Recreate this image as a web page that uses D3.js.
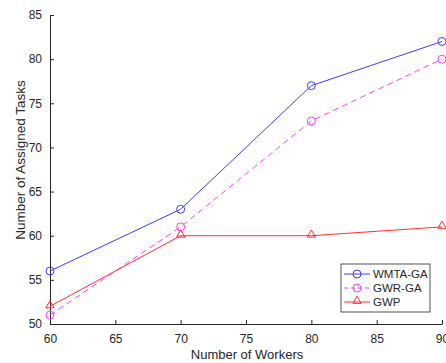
<!DOCTYPE html>
<html>
<head>
<meta charset="utf-8">
<script src="https://cdn.jsdelivr.net/npm/d3@7"></script>
<style>
  body { margin: 0; background: #fff; }
  svg { font-family: "Liberation Sans", Arial, sans-serif; }
</style>
</head>
<body>
<svg id="chart" width="446" height="363"></svg>
<script>
const width = 446;
const height = 363;

var workers = [60, 70, 80, 90];
var wmtaGA = [56, 63, 77, 82];
var gwrGA = [51, 61, 73, 80];
var gwp = [52, 60, 60, 61];
var xTicks = [60, 65, 70, 75, 80, 85, 90];
var yTicks = [50, 55, 60, 65, 70, 75, 80, 85];

var seriesList = [
    { name: "WMTA-GA", values: wmtaGA, color: "#3c3cff", dash: null, marker: "circle" },
    { name: "GWR-GA", values: gwrGA, color: "#ff3cff", dash: "6,4", marker: "circle" },
    { name: "GWP", values: gwp, color: "#ff3030", dash: null, marker: "triangle" }
];

var plotLeft = 50, plotRight = 442, plotTop = 15, plotBottom = 324;
var axisColor = "#262626";

var svg = d3.select("#chart");

var xScale = d3.scaleLinear().domain([60, 90]).range([plotLeft, plotRight]);
var yScale = d3.scaleLinear().domain([50, 85]).range([plotBottom, plotTop]);

// axes, ticks pointing inward like matlab
var xAxis = d3.axisBottom(xScale).tickValues(xTicks).tickSizeInner(-4).tickSizeOuter(0).tickPadding(10);
var yAxis = d3.axisLeft(yScale).tickValues(yTicks).tickSizeInner(-4).tickSizeOuter(0).tickPadding(10);

var gx = svg.append("g")
    .attr("transform", "translate(0," + plotBottom + ")")
    .call(xAxis);
var gy = svg.append("g")
    .attr("transform", "translate(" + plotLeft + ",0)")
    .call(yAxis);

[gx, gy].forEach(function (g) {
    g.select(".domain").attr("stroke", axisColor).attr("stroke-width", 1);
    g.selectAll(".tick line").attr("stroke", axisColor);
    g.selectAll(".tick text").attr("fill", axisColor).style("font-size", "12px");
});
gy.selectAll(".tick text").attr("dx", "2px");

svg.append("text")
    .attr("x", 247)
    .attr("y", 359)
    .attr("text-anchor", "middle")
    .attr("fill", axisColor)
    .style("font-size", "13px")
    .text("Number of Workers");

svg.append("text")
    .attr("transform", "translate(25,160) rotate(-90)")
    .attr("text-anchor", "middle")
    .attr("fill", axisColor)
    .style("font-size", "13.5px")
    .text("Number of Assigned Tasks");

var line = d3.line()
    .x(function (d, i) { return xScale(workers[i]); })
    .y(function (d) { return yScale(d); });

var triangle = d3.symbol().type(d3.symbolTriangle).size(30);

function drawMarker(g, s, cx, cy) {
    if (s.marker == "circle") {
        g.append("circle")
            .attr("cx", cx).attr("cy", cy).attr("r", 4)
            .attr("fill", "none").attr("stroke", s.color);
    } else {
        g.append("path")
            .attr("d", triangle())
            .attr("transform", "translate(" + cx + "," + (cy - 1) + ")")
            .attr("fill", "none").attr("stroke", s.color);
    }
}

seriesList.forEach(function (s) {
    var g = svg.append("g");
    g.append("path")
        .datum(s.values)
        .attr("d", line)
        .attr("fill", "none")
        .attr("stroke", s.color)
        .attr("stroke-width", 1)
        .attr("stroke-dasharray", s.dash);
    s.values.forEach(function (v, i) {
        drawMarker(g, s, xScale(workers[i]), yScale(v));
    });
});

// legend
var legend = svg.append("g").attr("transform", "translate(341,264)");
legend.append("rect")
    .attr("width", 89).attr("height", 48)
    .attr("fill", "#fff").attr("stroke", axisColor).attr("stroke-width", 0.8);

seriesList.forEach(function (s, i) {
    var yy = 10 + i * 14;
    var row = legend.append("g");
    row.append("line")
        .attr("x1", 3).attr("x2", 29).attr("y1", yy).attr("y2", yy)
        .attr("stroke", s.color).attr("stroke-dasharray", s.dash ? "4,3" : null);
    drawMarker(row, s, 16, yy);
    row.append("text")
        .attr("x", 32).attr("y", yy + 4)
        .attr("fill", axisColor)
        .style("font-size", "11.5px")
        .text(s.name);
});
</script>
</body>
</html>
